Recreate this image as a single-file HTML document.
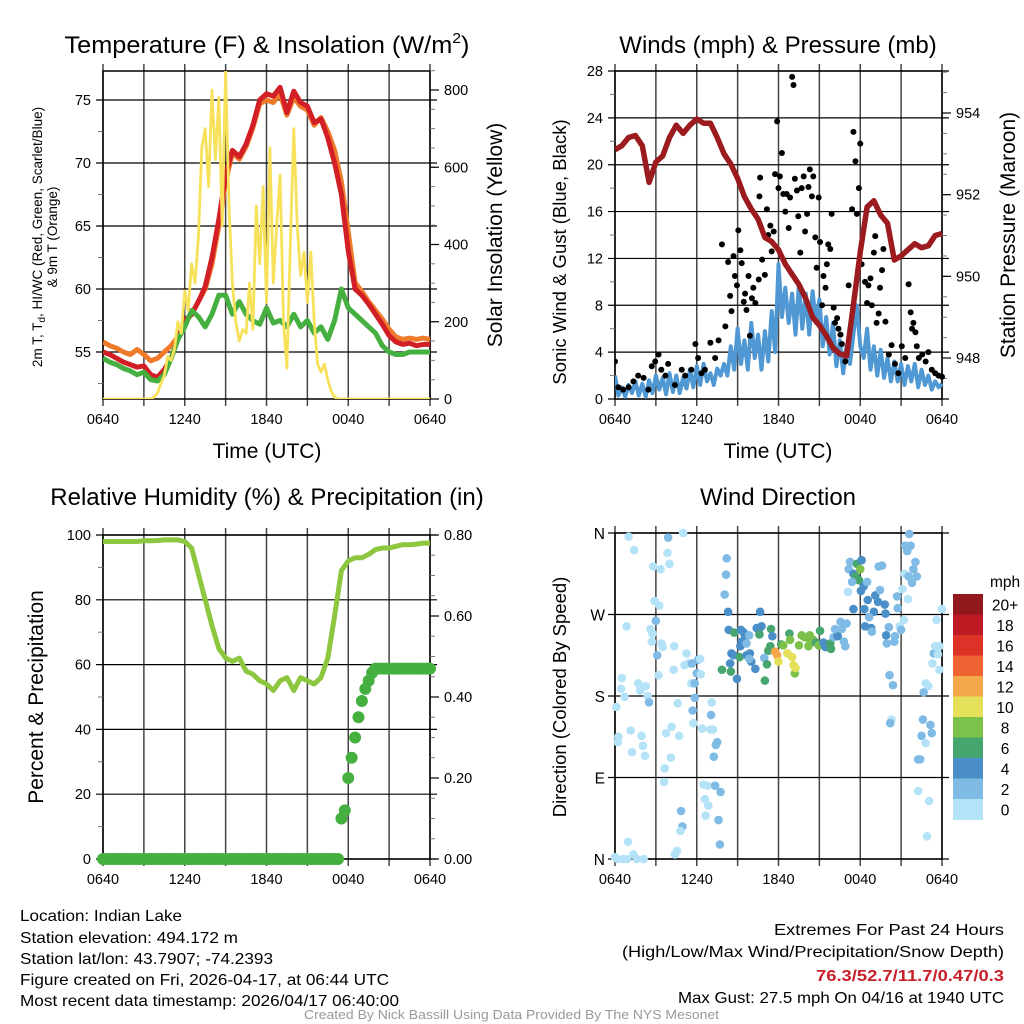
<!DOCTYPE html>
<html><head><meta charset="utf-8"><style>
html,body{margin:0;padding:0;background:#fff;}
svg{display:block;font-family:"Liberation Sans",Arial,sans-serif;}
</style></head><body>
<svg id="chart" width="1024" height="1024" viewBox="0 0 1024 1024" xmlns="http://www.w3.org/2000/svg">
<rect width="1024" height="1024" fill="#fff"/>
<g id="g1"></g>
<g id="g2"></g>
<g id="g3"></g>
<g id="g4"></g>

<text x="267" y="53" font-size="24" text-anchor="middle" textLength="405" lengthAdjust="spacingAndGlyphs">Temperature (F) &amp; Insolation (W/m<tspan font-size="15" dy="-10">2</tspan><tspan dy="10">)</tspan></text>
<text x="778" y="53" font-size="24" text-anchor="middle">Winds (mph) &amp; Pressure (mb)</text>
<text x="267" y="505" font-size="24" text-anchor="middle">Relative Humidity (%) &amp; Precipitation (in)</text>
<text x="778" y="505" font-size="24" text-anchor="middle">Wind Direction</text>

<text transform="translate(42,237) rotate(-90)" font-size="13.5" text-anchor="middle">2m T, T<tspan font-size="10" dy="3">d</tspan><tspan dy="-3">, HI/WC (Red, Green, Scarlet/Blue)</tspan></text>
<text transform="translate(57,237) rotate(-90)" font-size="13.5" text-anchor="middle">&amp; 9m T (Orange)</text>
<text transform="translate(502,235) rotate(-90)" font-size="21" text-anchor="middle">Solar Insolation (Yellow)</text>
<text transform="translate(566,252) rotate(-90)" font-size="18.5" text-anchor="middle">Sonic Wind &amp; Gust (Blue, Black)</text>
<text transform="translate(1015,235) rotate(-90)" font-size="21" text-anchor="middle">Station Pressure (Maroon)</text>
<text transform="translate(43,697) rotate(-90)" font-size="21" text-anchor="middle">Percent &amp; Precipitation</text>
<text transform="translate(566,697) rotate(-90)" font-size="18.5" text-anchor="middle">Direction (Colored By Speed)</text>
<text x="267" y="458" font-size="21" text-anchor="middle">Time (UTC)</text>
<text x="778" y="458" font-size="21" text-anchor="middle">Time (UTC)</text>

<g font-size="16" lengthAdjust="spacingAndGlyphs">
<text x="20" y="921" textLength="162" lengthAdjust="spacingAndGlyphs">Location: Indian Lake</text>
<text x="20" y="943" textLength="218" lengthAdjust="spacingAndGlyphs">Station elevation: 494.172 m</text>
<text x="20" y="964" textLength="253" lengthAdjust="spacingAndGlyphs">Station lat/lon: 43.7907; -74.2393</text>
<text x="20" y="985" textLength="369" lengthAdjust="spacingAndGlyphs">Figure created on Fri, 2026-04-17, at 06:44 UTC</text>
<text x="20" y="1006" textLength="379" lengthAdjust="spacingAndGlyphs">Most recent data timestamp: 2026/04/17 06:40:00</text>
</g>
<g font-size="16">
<text x="774" y="935" textLength="230" lengthAdjust="spacingAndGlyphs">Extremes For Past 24 Hours</text>
<text x="622" y="957" textLength="382" lengthAdjust="spacingAndGlyphs">(High/Low/Max Wind/Precipitation/Snow Depth)</text>
<text x="816" y="981" fill="#c8202a" font-weight="bold" textLength="188" lengthAdjust="spacingAndGlyphs">76.3/52.7/11.7/0.47/0.3</text>
<text x="678" y="1003" textLength="326" lengthAdjust="spacingAndGlyphs">Max Gust: 27.5 mph On 04/16 at 1940 UTC</text>
</g>
<text x="304" y="1019" font-size="13" fill="#999" textLength="415" lengthAdjust="spacingAndGlyphs">Created By Nick Bassill Using Data Provided By The NYS Mesonet</text>
</svg>
<script>
// ---------- data ----------
const xTickLabels=['0640','','1240','','1840','','0040','','0640'];
const tempTicks=[55,60,65,70,75];
const solarTicks=[0,200,400,600,800];
const windTicks=[0,4,8,12,16,20,24,28];
const pressTicks=[948,950,952,954];
const rhTicks=[0,20,40,60,80,100];
const precipTicks=['0.00','0.20','0.40','0.60','0.80'];
const dirTickLabels=['N','E','S','W','N'];
const speedBinLabels=['0','2','4','6','8','10','12','14','16','18','20+'];
const speedBinColors=['#b4e3f8','#7fbbe4','#4a8fc7','#47a56f','#7cc14a','#e5e05a','#f5a84a','#ee6331','#dc3228','#bd1c24','#92191b'];

// half-hourly series (t=0..24h)
const tempAir=[55.0,54.8,54.5,54.2,54.0,53.8,53.9,53.2,53.0,53.6,54.5,56.0,57.5,58.0,59.0,60.2,62.5,65.5,69.0,71.0,70.5,71.5,73.0,75.0,75.5,75.3,76.0,74.0,75.7,74.8,74.5,73.2,73.5,72.0,70.0,67.5,63.0,60.0,59.5,58.8,58.0,57.2,56.3,55.8,55.6,55.7,55.5,55.6,55.6];
const temp9m=[55.8,55.5,55.3,55.0,54.8,55.2,54.8,54.3,54.5,55.0,55.5,56.2,57.3,58.0,59.0,60.0,62.0,65.0,68.5,70.8,70.3,71.3,72.8,74.7,75.0,74.8,75.5,73.8,75.2,74.5,74.2,73.0,73.6,72.5,71.0,68.5,64.5,60.5,59.8,59.0,58.3,57.6,56.8,56.2,56.0,56.1,56.0,56.1,56.0];
const dewpoint=[54.5,54.2,54.0,53.7,53.5,53.2,53.4,52.8,52.7,53.2,54.5,56.0,57.0,58.3,57.8,57.0,58.0,59.5,59.5,58.0,59.0,58.0,57.5,57.2,58.5,57.3,57.5,57.0,58.0,57.0,57.5,56.5,57.0,56.0,57.5,60.0,58.5,58.0,57.5,57.0,56.5,55.5,55.0,54.8,54.8,55.0,55.0,55.0,55.0];
// quarter-hourly solar
const solar=[0,0,0,0,0,0,0,0,0,0,0,0,0,0,0,5,15,40,60,110,100,130,200,170,280,230,350,300,420,650,700,550,800,620,780,450,850,500,300,200,150,180,170,300,180,500,350,550,250,650,300,450,580,200,80,400,700,450,320,380,250,380,200,90,70,90,50,20,5,0,0,0,0,0,0,0,0,0,0,0,0,0,0,0,0,0,0,0,0,0,0,0,0,0,0,0,0];
const sonicWind=[2.0,0.3,1.0,0.2,1.2,0.5,1.5,0.3,1.3,0.2,1.6,0.5,2.0,0.8,1.8,0.4,2.2,0.6,2.0,0.5,1.8,0.9,2.5,1.0,2.8,1.2,3.0,1.5,2.2,1.2,2.6,2.0,3.0,2.0,4.5,2.5,6.0,3.0,5.0,2.5,6.5,3.5,5.5,2.5,5.8,3.2,7.5,4.0,11.5,7.0,9.5,6.5,9.0,5.5,9.8,6.0,9.0,5.5,9.2,6.5,8.5,4.5,7.0,3.8,6.5,2.8,5.0,2.2,4.5,3.0,5.5,8.0,4.5,3.5,6.0,2.5,4.5,2.0,4.2,1.8,3.5,1.5,3.2,1.5,3.0,1.2,2.8,1.5,3.0,1.0,2.5,1.2,2.0,0.8,1.5,1.0,1.3];
const gustTime=[0.0,0.24,0.6,1.0,1.35,1.7,2.1,2.45,2.7,2.95,3.2,3.4,3.7,3.9,4.4,4.9,5.15,5.6,5.9,6.1,6.35,6.6,7.0,7.35,7.6,7.85,8.1,8.3,8.45,8.55,8.7,8.8,8.95,9.05,9.2,9.3,9.45,9.55,9.65,9.8,9.9,10.05,10.15,10.3,10.55,10.65,10.6,10.8,11.0,11.15,11.25,11.4,11.5,11.65,11.75,11.9,12.0,12.1,12.25,12.35,12.5,12.6,12.75,12.85,13.0,13.1,13.2,13.35,13.45,13.6,13.7,13.85,13.95,14.1,14.2,14.3,14.45,14.55,14.7,14.8,14.95,15.05,15.2,15.3,15.45,15.55,15.65,15.8,15.9,16.05,16.15,16.3,16.4,16.55,16.65,16.9,17.15,17.4,17.5,17.65,17.75,17.9,18.0,18.1,18.35,18.5,18.6,18.75,18.85,19.0,19.1,19.2,19.35,19.45,19.6,19.7,19.85,20.1,20.3,20.55,20.8,21.05,21.3,21.55,21.7,21.8,21.9,22.05,22.15,22.3,22.55,22.8,23.0,23.25,23.5,23.75,24.0];
const gustSpeed=[3.2,1.0,0.8,1.0,1.5,2.0,1.8,0.8,2.8,3.2,3.8,2.5,2.0,3.0,1.2,2.5,2.0,2.5,4.7,3.5,2.2,2.5,4.8,3.5,5.0,13.2,6.2,11.7,8.8,7.5,12.2,10.5,9.7,14.4,12.7,11.6,8.3,9.0,7.6,10.5,5.4,8.6,9.5,8.2,10.2,18.9,17.3,11.9,10.6,16.2,14.0,14.8,12.6,14.3,19.2,23.7,18.0,19.0,21.0,17.5,16.0,17.5,14.6,17.2,27.5,26.8,18.8,17.8,15.6,12.5,18.0,19.0,14.3,15.8,18.1,19.6,17.3,19.0,13.8,11.2,17.2,13.4,8.0,10.5,9.5,11.5,13.2,12.8,15.8,7.8,6.5,6.9,6.0,5.5,4.7,3.2,9.7,16.2,22.8,20.3,15.8,18.0,21.8,11.5,10.0,8.2,9.7,10.3,8.0,12.5,13.9,6.5,7.3,9.5,11.0,12.8,6.6,3.8,4.6,3.0,2.2,4.5,3.5,9.8,7.4,6.0,6.5,5.7,4.5,3.5,3.8,3.2,4.0,2.5,2.2,2.0,1.9];
const pressure=[953.1,953.2,953.4,953.45,953.2,952.3,952.8,952.95,953.4,953.7,953.5,953.7,953.85,953.75,953.75,953.4,953.0,952.75,952.4,951.95,951.65,951.4,950.95,950.85,950.65,950.3,950.05,949.8,949.45,949.0,948.8,948.55,948.25,948.1,948.05,949.3,950.6,951.7,951.85,951.5,951.3,950.4,950.5,950.65,950.8,950.7,950.75,951.0,951.05];
const humidity=[98,98,98,98,98,98,98.2,98.2,98.3,98.5,98.5,98.5,98.0,96,88,80,72,65,62,61,62,58,57,55,54,52,55,56,52,56,55,54,56,62,75,89,92,93,93,94,95.5,96,96,96.5,97,97,97.2,97.5,97.5];
// quarter-hourly precipitation
const precip=[0,0,0,0,0,0,0,0,0,0,0,0,0,0,0,0,0,0,0,0,0,0,0,0,0,0,0,0,0,0,0,0,0,0,0,0,0,0,0,0,0,0,0,0,0,0,0,0,0,0,0,0,0,0,0,0,0,0,0,0,0,0,0,0,0,0,0,0,0,0,0.10,0.12,0.20,0.25,0.30,0.35,0.39,0.42,0.44,0.46,0.47,0.47,0.47,0.47,0.47,0.47,0.47,0.47,0.47,0.47,0.47,0.47,0.47,0.47,0.47,0.47,0.47];
const dirTime=[0.0,0.2,0.6,0.9,1.35,1.6,2.1,0.95,1.0,1.4,0.85,0.5,0.45,0.7,0.1,0.25,0.2,1.15,1.25,1.7,1.85,2.25,2.4,2.5,1.95,2.05,2.2,2.8,3.35,2.9,3.25,3.0,2.6,2.75,2.7,3.4,3.5,3.1,3.2,3.9,3.85,4.0,5.0,4.35,4.3,5.25,5.1,5.4,5.65,6.1,6.25,6.0,6.3,5.6,5.85,5.85,4.6,7.1,5.7,5.75,4.15,3.75,4.7,4.1,3.65,3.6,6.4,7.0,7.2,7.05,7.5,7.4,7.25,6.5,6.8,7.35,7.75,6.6,6.85,6.65,4.85,4.95,4.8,4.55,4.4,7.6,7.7,
8.2,8.15,8.05,8.3,8.35,8.75,9.25,9.45,9.55,9.3,9.2,9.65,9.85,10.55,10.75,10.4,10.65,10.6,11.45,11.55,8.55,8.7,9.15,8.45,7.85,8.5,8.95,9.65,9.9,10.0,10.3,9.85,10.95,11.15,11.0,11.25,11.4,11.75,11.9,12.0,12.2,12.35,12.65,12.8,12.85,13.0,13.1,13.2,13.25,13.5,13.7,13.9,14.15,14.3,14.2,14.55,14.75,15.05,14.95,15.3,15.45,15.8,15.85,16.05,16.35,16.55,16.65,16.8,16.9,16.15,17.0,
17.25,17.15,17.5,17.65,17.9,17.75,18.0,18.1,17.4,17.1,18.25,18.5,18.05,18.55,19.1,19.3,19.45,19.35,19.6,17.5,18.3,19.0,19.8,19.85,18.65,18.35,18.8,18.85,19.9,20.1,20.55,19.95,20.5,20.75,20.7,20.9,21.0,21.2,21.1,21.5,21.25,21.55,21.3,21.45,21.7,21.6,21.9,22.05,22.15,21.8,24.0,23.6,23.4,23.5,23.8,23.7,23.3,23.8,22.8,23.0,22.65,20.15,20.4,20.3,20.2,22.6,23.15,23.25,22.5,22.8,22.25,22.4,22.25,23.05,22.9];
const dirDeg=[2,0,0,0,5,0,0,19,356,341,257,200,188,179,168,135,129,142,118,194,186,191,180,173,136,125,114,323,320,285,280,263,254,249,240,238,234,225,203,355,338,326,360,235,209,227,214,216,216,220,221,205,204,194,194,178,172,173,164,150,146,139,136,112,100,85,144,143,143,159,129,126,113,82,81,81,74,66,59,48,53,36,31,9,5,43,16,
332,314,292,273,253,250,253,250,246,240,235,238,247,253,257,255,273,248,254,246,227,225,223,216,209,207,199,225,227,218,210,221,222,215,197,230,235,229,225,218,237,236,227,249,242,223,214,205,211,236,247,245,244,247,235,242,239,252,236,239,234,238,232,245,246,262,254,240,235,254,260,
328,320,315,312,308,326,320,330,306,295,301,306,296,286,291,284,297,323,324,276,276,273,281,271,267,257,255,251,247,256,246,238,240,277,290,257,253,264,298,287,315,312,346,340,346,359,320,328,312,305,276,264,227,235,235,226,216,209,194,191,184,203,192,154,150,154,148,139,136,128,110,110,75,64,25];
const dirSpeed=[1,1,1,1,1,1,1,1,1,1,1,1,1,1,1,1,1,1,1,1,1,1,1,3,1,1,1,1,1,1,1,3,1,1,1,1,1,3,1,3,1,1,1,1,1,1,1,1,3,3,1,3,1,1,3,3,1,1,3,1,1,1,1,1,1,1,1,1,1,3,3,3,3,1,1,3,3,1,1,1,3,3,1,1,1,3,3,
3,3,3,5,5,7,5,5,5,5,5,3,3,5,5,5,5,7,7,5,5,5,7,5,7,7,5,5,5,5,5,3,3,7,7,7,7,13,13,11,7,9,11,7,9,11,11,9,11,9,9,9,9,9,9,9,7,7,9,5,5,7,7,3,5,3,3,3,3,3,3,
3,3,5,7,7,7,9,5,3,1,5,3,5,5,5,5,3,3,3,5,5,5,5,5,3,5,5,3,5,3,3,3,3,3,3,1,3,1,1,1,1,3,3,3,3,3,3,3,3,3,1,1,3,1,1,1,1,1,1,1,3,3,3,1,3,3,3,3,3,1,3,3,1,1,1];

// ---------- helpers ----------
const NS='http://www.w3.org/2000/svg';
function mk(tag,attrs,parent){const e=document.createElementNS(NS,tag);for(const k in attrs)e.setAttribute(k,attrs[k]);parent.appendChild(e);return e;}
function txt(s,attrs,parent){const e=mk('text',attrs,parent);e.textContent=s;return e;}
function lin(d0,d1,r0,r1){return v=>r0+(v-d0)/(d1-d0)*(r1-r0);}
function seriesPath(arr,step,xf,yf){let d='';arr.forEach((v,i)=>{d+=(i?'L':'M')+xf(i*step).toFixed(1)+','+yf(v).toFixed(1);});return d;}

function frame(g,P,xLabels){
  const xf=lin(0,24,P.x0,P.x1);
  for(let i=0;i<=8;i++){const x=xf(i*3);
    const l=mk('line',{x1:x,x2:x,y1:P.y0-7,y2:P.y1+7,stroke:'#444','stroke-width':1.5},g);
    
    
    if(xLabels&&xTickLabels[i]){const t=txt(xTickLabels[i],{x:x,y:P.y1+25,'font-size':14.5,'text-anchor':'middle'},g);
      
      }
  }
  mk('rect',{x:P.x0,y:P.y0,width:P.x1-P.x0,height:P.y1-P.y0,fill:'none',stroke:'#000','stroke-width':1.5},g);
  return xf;
}
function hgrid(g,P,ticks,yf,labels){
  ticks.forEach((v,i)=>{const y=yf(v);
    const l=mk('line',{x1:P.x0-7,x2:P.x1+7,y1:y,y2:y,stroke:'#000','stroke-width':1.2},g);
    
    
    const t=txt(labels?labels[i]:String(v),{x:P.x0-12,y:y+5,'font-size':14.5,'text-anchor':'end'},g);
    
    
  });
}
function rightAxis(g,P,ticks,yf,labels,minor){
  minor.forEach(v=>{const y=yf(v);mk('line',{x1:P.x1,x2:P.x1+5,y1:y,y2:y,stroke:'#777','stroke-width':1},g);});
  ticks.forEach((v,i)=>{const y=yf(v);
    mk('line',{x1:P.x1,x2:P.x1+9,y1:y,y2:y,stroke:'#000','stroke-width':1.2},g);
    const t=txt(labels?labels[i]:String(v),{x:P.x1+14,y:y+5,'font-size':14.5},g);
    
    
  });
}

// ---------- panel 1: temperature ----------
(function(){
  const g=document.getElementById('g1');
  const P={x0:103,x1:430,y0:71,y1:399};
  const xf=frame(g,P,true);
  const yT=lin(55,75,352,100);
  const yS=lin(0,800,399,90);
  hgrid(g,P,tempTicks,yT);
  [52.5,57.5,62.5,67.5,72.5].forEach(v=>mk('line',{x1:P.x0-5,x2:P.x0,y1:yT(v),y2:yT(v),stroke:'#777'},g));
  const minor=[];for(let v=50;v<=850;v+=50)minor.push(v);
  rightAxis(g,P,solarTicks,yS,null,minor);
  const cp=mk('clipPath',{id:'c1'},g);mk('rect',{x:P.x0,y:P.y0,width:P.x1-P.x0,height:P.y1-P.y0},cp);
  const s=mk('g',{'clip-path':'url(#c1)'},g);
  const p1=mk('path',{d:seriesPath(temp9m,0.5,xf,yT),fill:'none',stroke:'#f07a2c','stroke-width':5,'stroke-linejoin':'round'},s);
  
  
  const p2=mk('path',{d:seriesPath(tempAir,0.5,xf,yT),fill:'none',stroke:'#d21f26','stroke-width':5,'stroke-linejoin':'round'},s);
  
  
  const p3=mk('path',{d:seriesPath(dewpoint,0.5,xf,yT),fill:'none',stroke:'#45b040','stroke-width':5,'stroke-linejoin':'round'},s);
  
  
  const p4=mk('path',{d:seriesPath(solar,0.25,xf,yS),fill:'none',stroke:'#f8e15a','stroke-width':2.8,'stroke-linejoin':'round'},s);
  
  
})();

// ---------- panel 2: winds ----------
(function(){
  const g=document.getElementById('g2');
  const P={x0:615,x1:942,y0:71,y1:399};
  const xf=frame(g,P,true);
  const yW=lin(0,28,399,71);
  const yP=lin(948,954,358,113);
  hgrid(g,P,windTicks,yW);
  [2,6,10,14,18,22,26].forEach(v=>mk('line',{x1:P.x0-5,x2:P.x0,y1:yW(v),y2:yW(v),stroke:'#777'},g));
  const minor=[];for(let v=947.5;v<=955;v+=0.5)minor.push(v);
  rightAxis(g,P,pressTicks,yP,null,minor);
  const cp=mk('clipPath',{id:'c2'},g);mk('rect',{x:P.x0,y:P.y0-4,width:P.x1-P.x0+4,height:P.y1-P.y0+4},cp);
  const s=mk('g',{'clip-path':'url(#c2)'},g);
  const b=mk('path',{d:seriesPath(sonicWind,0.25,xf,yW),fill:'none',stroke:'#4f98d4','stroke-width':4,'stroke-linejoin':'round'},s);
  
  
  gustTime.forEach((t,i)=>{
    const c=mk('circle',{cx:xf(t),cy:yW(gustSpeed[i]),r:3,fill:'#000'},s);
    
    
  });
  const p=mk('path',{d:seriesPath(pressure,0.5,xf,yP),fill:'none',stroke:'#9b1b1e','stroke-width':5.5,'stroke-linejoin':'round'},s);
  
  
})();

// ---------- panel 3: humidity ----------
(function(){
  const g=document.getElementById('g3');
  const P={x0:103,x1:430,y0:535,y1:859};
  const xf=frame(g,P,true);
  const yR=lin(0,100,859,535);
  const yPr=lin(0,0.8,859,535);
  hgrid(g,P,rhTicks,yR);
  [10,30,50,70,90].forEach(v=>mk('line',{x1:P.x0-5,x2:P.x0,y1:yR(v),y2:yR(v),stroke:'#777'},g));
  const minor=[];for(let v=0.05;v<0.8;v+=0.05)minor.push(v);
  rightAxis(g,P,[0,0.2,0.4,0.6,0.8],yPr,precipTicks,minor);
  const h=mk('path',{d:seriesPath(humidity,0.5,xf,yR),fill:'none',stroke:'#8dc63f','stroke-width':5,'stroke-linejoin':'round'},g);
  
  
  precip.forEach((v,i)=>{
    const c=mk('circle',{cx:xf(i*0.25),cy:yPr(v),r:6,fill:'#45b040'},g);
    
    
  });
})();

// ---------- panel 4: wind direction ----------
(function(){
  const g=document.getElementById('g4');
  const P={x0:615,x1:942,y0:533,y1:859};
  const xf=frame(g,P,true);
  const yD=lin(0,360,859,533);
  [0,90,180,270,360].forEach((v,i)=>{const y=yD(v);
    mk('line',{x1:P.x0-7,x2:P.x1+7,y1:y,y2:y,stroke:'#000','stroke-width':1.2},g);
    const t=txt(dirTickLabels[i],{x:P.x0-10,y:y+6,'font-size':15.5,'text-anchor':'end'},g);
    
    
  });
  dirTime.forEach((t,i)=>{
    const bin=Math.min(10,Math.floor(dirSpeed[i]/2));
    const c=mk('circle',{cx:xf(t),cy:yD(dirDeg[i]),r:4.3,fill:speedBinColors[bin]},g);
    
    
  });
  const cbTop=594,cbH=20.5,cbX=953,cbW=30;
  const tt=txt('mph',{x:990,y:587,'font-size':15.5},g);
  
  
  for(let k=0;k<11;k++){
    const idx=10-k;const y=cbTop+k*cbH;
    const r=mk('rect',{x:cbX,y:y,width:cbW,height:cbH+0.5,fill:speedBinColors[idx]},g);
    
    
    const t=txt(speedBinLabels[idx],{x:1005,y:y+cbH/2+6,'font-size':15.5,'text-anchor':'middle'},g);
    
    
  }
})();
</script>
</body></html>
